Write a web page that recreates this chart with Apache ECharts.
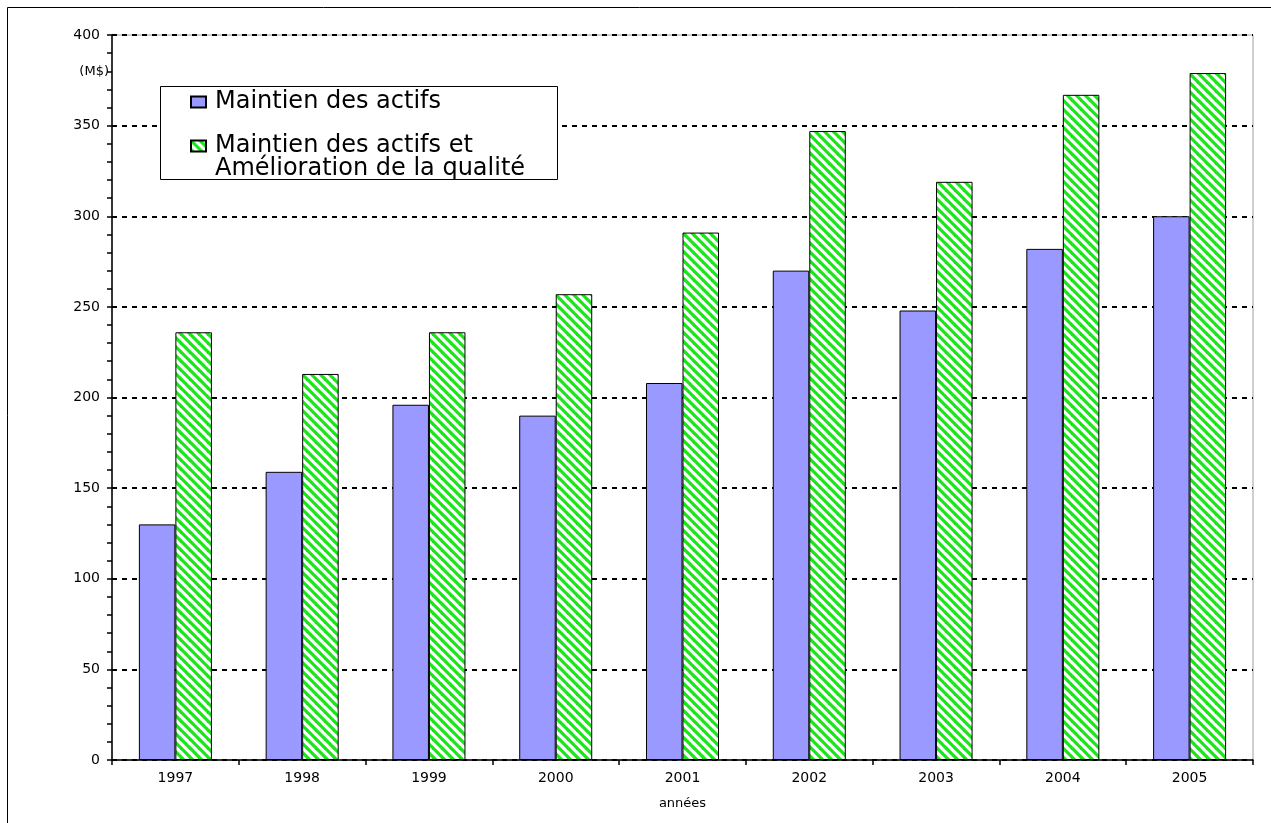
<!DOCTYPE html>
<html>
<head>
<meta charset="utf-8">
<script src="https://cdn.jsdelivr.net/npm/echarts@6/dist/echarts.min.js"></script>
<style>
html,body{margin:0;padding:0;background:#fff;}
#chart{width:1271px;height:823px;}
</style>
</head>
<body>
<div id="chart"></div>
<script>
var categories = ['1997','1998','1999','2000','2001','2002','2003','2004','2005'];
var maintienActifs = [130, 159, 196, 190, 208, 270, 248, 282, 300];
var maintienQualite = [236, 213, 236, 257, 291, 347, 319, 367, 379];
var seriesNames = ['Maintien des actifs', 'Maintien des actifs et\nAmélioration de la qualité'];
var yAxisUnit = '(M$)';
var xAxisName = 'années';

var FONT = 'DejaVu Sans';

function makeHatch() {
  var c = document.createElement('canvas');
  c.width = 9; c.height = 9;
  var ctx = c.getContext('2d');
  ctx.fillStyle = '#ffffff';
  ctx.fillRect(0, 0, 9, 9);
  ctx.strokeStyle = '#19e619';
  ctx.lineWidth = 3.2;
  for (var k = -9; k <= 9; k += 9) {
    ctx.beginPath();
    ctx.moveTo(k - 2, -2);
    ctx.lineTo(k + 11, 11);
    ctx.stroke();
  }
  return c;
}
var hatch = { image: makeHatch(), repeat: 'repeat' };

var chart = echarts.init(document.getElementById('chart'), null, { renderer: 'canvas' });

function frameGraphics(unitY) {
  var g = [
    { type: 'rect', silent: true, z: 100,
      shape: { x: 7.5, y: 7.5, width: 1400, height: 1000 },
      style: { fill: 'none', stroke: '#000', lineWidth: 1 } },
    { type: 'rect', silent: true, z: 3,
      shape: { x: 160.5, y: 86.5, width: 397, height: 93 },
      style: { fill: '#fff', stroke: '#000', lineWidth: 1 } }
  ];
  if (unitY != null) {
    g.push({ type: 'text', silent: true, z: 100, x: 109, y: unitY,
      style: { text: yAxisUnit, fontFamily: FONT, fontSize: 13, fill: '#000', align: 'right', verticalAlign: 'middle' } });
  }
  return g;
}

var option = {
  backgroundColor: '#ffffff',
  animation: false,
  grid: {
    left: 112, right: 18, top: 35, bottom: 63,
    show: true, borderColor: '#a0a0a0', borderWidth: 1, backgroundColor: 'transparent'
  },
  legend: {
    orient: 'vertical',
    left: 160, top: 86,
    padding: [4, 20, 0, 30],
    z: 4,
    icon: 'rect',
    itemWidth: 15, itemHeight: 11,
    itemGap: -3,
    formatter: function (name) {
      return name === seriesNames[1] ? ' \n' + name : name;
    },
    textStyle: { fontFamily: FONT, fontSize: 24, color: '#000', lineHeight: 23, padding: [0, 0, 0, 4] },
    data: [ { name: seriesNames[0] }, { name: seriesNames[1] } ]
  },
  xAxis: {
    type: 'category',
    data: categories,
    name: xAxisName,
    nameLocation: 'middle',
    nameGap: 37,
    nameTextStyle: { fontFamily: FONT, fontSize: 13, color: '#000' },
    axisLine: { lineStyle: { color: '#000', width: 1.5 } },
    axisTick: { show: true, alignWithLabel: false, length: 5, lineStyle: { color: '#000', width: 1.5 } },
    axisLabel: { fontFamily: FONT, fontSize: 14, color: '#000', margin: 11 },
    splitLine: { show: false }
  },
  yAxis: {
    type: 'value',
    min: 0, max: 400, interval: 50,
    axisLine: { show: true, lineStyle: { color: '#000', width: 1.5 } },
    axisTick: { show: true, length: 5, lineStyle: { color: '#000', width: 1.5 } },
    minorTick: { show: true, splitNumber: 5, length: 5, lineStyle: { color: '#000', width: 1.5 } },
    axisLabel: { fontFamily: FONT, fontSize: 14, color: '#000', margin: 12 },
    splitLine: { show: true, lineStyle: { color: '#000', width: 2, type: [5, 5] } }
  },
  series: [
    {
      name: seriesNames[0],
      type: 'bar',
      data: maintienActifs,
      barWidth: '28.8%',
      barGap: '0%',
      itemStyle: { color: '#9999ff', borderColor: '#000', borderWidth: 1 }
    },
    {
      name: seriesNames[1],
      type: 'bar',
      data: maintienQualite,
      barWidth: '28.8%',
      barGap: '0%',
      itemStyle: { color: hatch, borderColor: '#000', borderWidth: 1 }
    }
  ],
  graphic: frameGraphics(null)
};
chart.setOption(option);

var unitY = chart.convertToPixel({ yAxisIndex: 0 }, 380);
chart.setOption({ graphic: frameGraphics(unitY) }, { replaceMerge: ['graphic'] });
</script>
</body>
</html>
